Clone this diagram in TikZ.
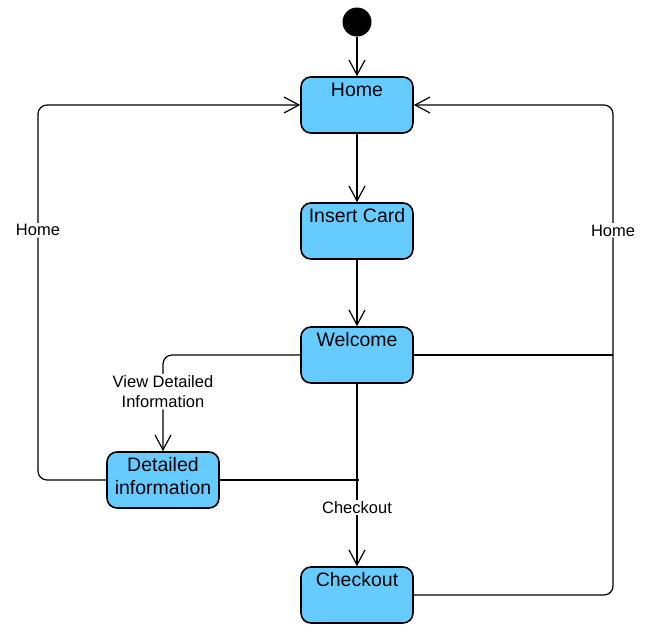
\documentclass[tikz,border=0pt]{standalone}
\usepackage{fontspec}
\setmainfont{Liberation Sans}
\usetikzlibrary{arrows.meta,positioning}
\definecolor{Statefill}{RGB}{102,204,255}

\begin{document}
\begin{tikzpicture}[x=1pt,y=-1pt,
  state/.style={draw,line width=1.6pt,fill=Statefill,rounded corners=10pt,minimum width=112pt,inner xsep=2pt,inner ysep=0pt,text height=19pt,text depth=37pt,align=center,font=\fontsize{19.5}{23}\selectfont},
  trans/.style={line width=1.2pt,-{Straight Barb[length=15pt,width=16pt]}},
  link/.style={line width=1.2pt},
  tlabel/.style={fill=white,inner sep=1.5pt,align=center,font=\fontsize{16.5}{20.5}\selectfont}]
\useasboundingbox (0,0) rectangle (648,633);
%
% states
\node[circle,fill=black,minimum size=29pt,inner sep=0pt] (start) at (357,22) {};
\node[state] (home)     at (357,105) {Home};
\node[state] (insert)   at (357,231) {Insert Card};
\node[state] (welcome)  at (357,355) {Welcome};
\node[state,text height=42pt,text depth=14pt] (detailed) at (163,480) {Detailed\\information};
\node[state] (checkout) at (357,595) {Checkout};
\coordinate (leftrail)  at (38,0);
\coordinate (rightrail) at (613,0);
%
% transitions
\draw[trans] (start) -- (home);
\draw[trans] (home) -- (insert);
\draw[trans] (insert) -- (welcome);
\draw[trans] (welcome) -- node[tlabel,pos=0.68] {Checkout} (checkout);
\draw[trans,rounded corners=9pt] (welcome.west) -| node[tlabel,pos=0.69] {View Detailed\\Information} (detailed.north);
\draw[trans,rounded corners=9pt] (detailed.west) -- (detailed.west -| leftrail) |- node[tlabel,pos=0.333] {Home} (home.west);
\draw[link] (detailed.east) -- ([xshift=2pt]detailed.east -| checkout.north);
\draw[link] (welcome.east) -- (welcome.east -| rightrail);
\draw[trans,rounded corners=9pt] (checkout.east) -- (checkout.east -| rightrail) |- node[tlabel,pos=0.372] {Home} (home.east);
%
\end{tikzpicture}
\end{document}
